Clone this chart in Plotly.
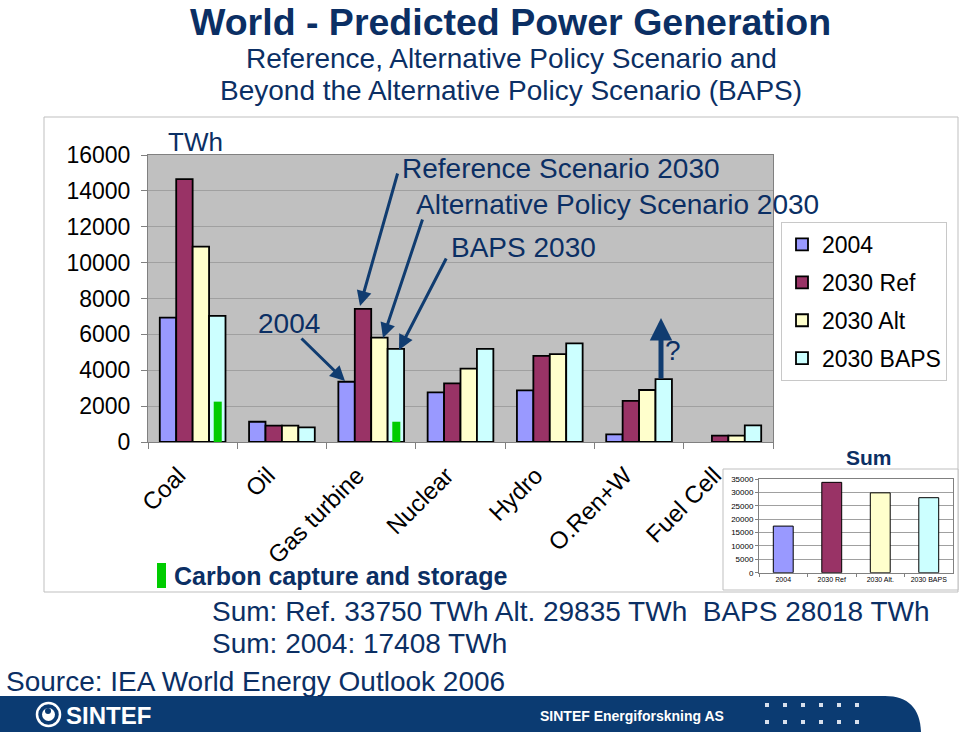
import plotly.graph_objects as go

# ---------------- data ----------------
categories = ["Coal", "Oil", "Gas turbine", "Nuclear", "Hydro", "O.Ren+W", "Fuel Cell"]
gen_2004 = [6930, 1130, 3360, 2770, 2880, 430, None]
gen_2030_ref = [14650, 910, 7420, 3270, 4800, 2290, 350]
gen_2030_alt = [10890, 910, 5820, 4090, 4900, 2900, 350]
gen_2030_baps = [7030, 820, 5190, 5190, 5500, 3500, 930]
ccs = [2250, None, 1130, None, None, None, None]
series_names = ["2004", "2030 Ref", "2030 Alt", "2030 BAPS"]

sum_labels = ["2004", "2030 Ref", "2030 Alt.", "2030 BAPS"]
sum_values = [17408, 33750, 29835, 28018]

y_ticks = [0, 2000, 4000, 6000, 8000, 10000, 12000, 14000, 16000]
sum_ticks = [0, 5000, 10000, 15000, 20000, 25000, 30000, 35000]

# ---------------- style ----------------
colors = ["#9999FF", "#993366", "#FFFFCC", "#CCFFFF"]
ccs_color = "#00CC00"
navy = "#0B2F64"
font_fam = "Liberation Sans, Arial, sans-serif"
W, H = 960, 735


def px(x):
    return x / W


def py(y):
    return 1 - y / H


fig = go.Figure()

bar_w = 0.184
offsets = [-0.368, -0.184, 0.0, 0.184]
for name, vals, col, off in zip(series_names,
                                [gen_2004, gen_2030_ref, gen_2030_alt, gen_2030_baps],
                                colors, offsets):
    fig.add_trace(go.Bar(
        x=categories, y=vals, name=name, width=bar_w, offset=off,
        marker=dict(color=col, line=dict(color="black", width=1.8)),
        xaxis="x", yaxis="y", legendgroup=name,
    ))

fig.add_trace(go.Bar(
    x=categories, y=ccs, name="Carbon capture and storage", width=0.09, offset=0.236,
    marker=dict(color=ccs_color, line=dict(width=0)),
    xaxis="x", yaxis="y", showlegend=False,
))

fig.add_trace(go.Bar(
    x=sum_labels, y=sum_values, width=0.41,
    marker=dict(color=colors, line=dict(color="black", width=1)),
    xaxis="x2", yaxis="y2", showlegend=False,
))

grid_col = "#A0A0A0"
axis_col = "#808080"

fig.update_layout(
    width=W, height=H,
    margin=dict(l=0, r=0, t=0, b=0, autoexpand=False),
    paper_bgcolor="white",
    plot_bgcolor="#C0C0C0",
    barmode="overlay",
    font=dict(family=font_fam, color="black"),
    showlegend=True,
    legend=dict(
        x=px(781), y=py(222), xanchor="left", yanchor="top",
        bgcolor="white", bordercolor="#C8C8C8", borderwidth=1,
        font=dict(size=23, color="black", family=font_fam),
        tracegroupgap=5, itemwidth=30,
    ),
    xaxis=dict(
        domain=[px(148), px(773)], anchor="y", automargin=False,
        type="category", tickangle=-45, tickfont=dict(size=24, color="black"),
        ticks="outside", ticklen=6, tickcolor=axis_col, tickson="boundaries",
        showline=True, linecolor=axis_col, linewidth=1, mirror=True,
        showgrid=False, ticklabelstandoff=9, ticklabelshift=-14,
    ),
    yaxis=dict(
        domain=[py(442), py(155)], anchor="x", automargin=False,
        range=[0, 16000], tickvals=y_ticks, tickformat="d",
        tickfont=dict(size=23, color="black"),
        ticks="outside", ticklen=6, tickcolor=axis_col,
        showline=True, linecolor=axis_col, linewidth=1, mirror=True,
        showgrid=True, gridcolor=grid_col, gridwidth=1, zeroline=False,
        ticklabelstandoff=6,
    ),
    xaxis2=dict(
        domain=[px(759), px(953)], anchor="y2", automargin=False,
        type="category", tickfont=dict(size=7, color="black"), tickangle=0,
        ticks="outside", ticklen=3, tickcolor=axis_col, tickson="boundaries",
        showline=True, linecolor=axis_col, linewidth=1, mirror=True, showgrid=False,
    ),
    yaxis2=dict(
        domain=[py(572.7), py(479)], anchor="x2", automargin=False,
        range=[0, 35000], tickvals=sum_ticks, tickformat="d",
        tickfont=dict(size=8, color="black"),
        ticks="outside", ticklen=3, tickcolor=axis_col,
        showline=True, linecolor=axis_col, linewidth=1, mirror=True,
        showgrid=True, gridcolor=grid_col, zeroline=False,
    ),
)

shapes = []
# main chart frame
shapes.append(dict(type="rect", xref="paper", yref="paper",
                   x0=px(44), x1=px(958), y0=py(592), y1=py(117),
                   line=dict(color="#BFBFBF", width=1), fillcolor="rgba(0,0,0,0)", layer="below"))
# inset frame
shapes.append(dict(type="rect", xref="paper", yref="paper",
                   x0=px(723), x1=px(958), y0=py(590), y1=py(469),
                   line=dict(color="#BFBFBF", width=1), fillcolor="white", layer="below"))
# CCS legend swatch
shapes.append(dict(type="rect", xref="paper", yref="paper",
                   x0=px(157), x1=px(166), y0=py(588), y1=py(563),
                   line=dict(width=0), fillcolor=ccs_color))
# footer band with rounded right corner
band = "#0B3B72"
path = (f"M 0 {py(696)} L {px(885)} {py(696)} "
        f"C {px(908)} {py(696)} {px(920)} {py(708)} {px(921)} {py(732)} "
        f"L 0 {py(732)} Z")
shapes.append(dict(type="path", xref="paper", yref="paper", path=path,
                   fillcolor=band, line=dict(width=0)))
# footer dots
for row_y in (705, 722):
    for i in range(6):
        cx = 767 + i * 18
        shapes.append(dict(type="rect", xref="paper", yref="paper",
                           x0=px(cx - 2), x1=px(cx + 2), y0=py(row_y + 2), y1=py(row_y - 2),
                           fillcolor="#D8E0EC", line=dict(width=0)))
# SINTEF logo ring
shapes.append(dict(type="circle", xref="paper", yref="paper",
                   x0=px(37), x1=px(60), y0=py(726), y1=py(703),
                   line=dict(color="white", width=2.5), fillcolor=band))
shapes.append(dict(type="circle", xref="paper", yref="paper",
                   x0=px(42), x1=px(55), y0=py(721), y1=py(708),
                   line=dict(color="white", width=0), fillcolor="white"))
shapes.append(dict(type="circle", xref="paper", yref="paper",
                   x0=px(45), x1=px(51), y0=py(714), y1=py(708),
                   line=dict(width=0), fillcolor=band))
fig.update_layout(shapes=shapes)

ann = []


def text(t, x, y, size, color=navy, xanchor="left", bold=False, yanchor="middle"):
    if bold:
        t = f"<b>{t}</b>"
    ann.append(dict(text=t, x=px(x), y=py(y), xref="paper", yref="paper",
                    xanchor=xanchor, yanchor=yanchor, showarrow=False,
                    font=dict(size=size, color=color, family=font_fam)))


def arrow(x0, y0, x1, y1, width=3, size=1.0):
    ann.append(dict(text="", x=px(x1), y=py(y1), xref="paper", yref="paper",
                    ax=x0 - x1, ay=y0 - y1, axref="pixel", ayref="pixel",
                    showarrow=True, arrowhead=2, arrowsize=size, arrowwidth=width,
                    arrowcolor="#103C70"))


text("World - Predicted Power Generation", 510, 21.5, 37.5, bold=True, xanchor="center")
text("Reference, Alternative Policy Scenario and", 511, 58, 28, xanchor="center")
text("Beyond the Alternative Policy Scenario (BAPS)", 511, 90, 28, xanchor="center")
text("TWh", 166, 142, 26)
text("Reference Scenario 2030", 400, 169, 28)
text("Alternative Policy Scenario 2030", 414, 204, 28)
text("BAPS 2030", 449, 247, 28)
text("2004", 256, 323, 28)
text("?", 663, 350, 28)
text("Carbon capture and storage", 172, 576, 25, bold=True)
text("Sum", 869, 457, 21, bold=True, xanchor="center")
text("Sum: Ref. 33750 TWh Alt. 29835 TWh \u00a0BAPS 28018 TWh", 210, 611, 28)
text("Sum: 2004: 17408 TWh", 210, 643, 28)
text("Source: IEA World Energy Outlook 2006", 4, 681, 28)
text("SINTEF", 64, 715, 24, color="white", bold=True)
text("SINTEF Energiforskning AS", 538, 716, 14, color="white", bold=True)

arrow(398, 172, 360, 306)
arrow(423, 218, 383, 338)
arrow(447, 257, 399, 350)
arrow(300, 337, 345, 381)
arrow(661, 380, 661, 318, width=5, size=0.9)

fig.update_layout(annotations=ann)

fig.write_html(
    "out.html",
    config={"displayModeBar": False},
    post_script="document.body.style.margin='0px';document.body.style.overflow='hidden';",
)
